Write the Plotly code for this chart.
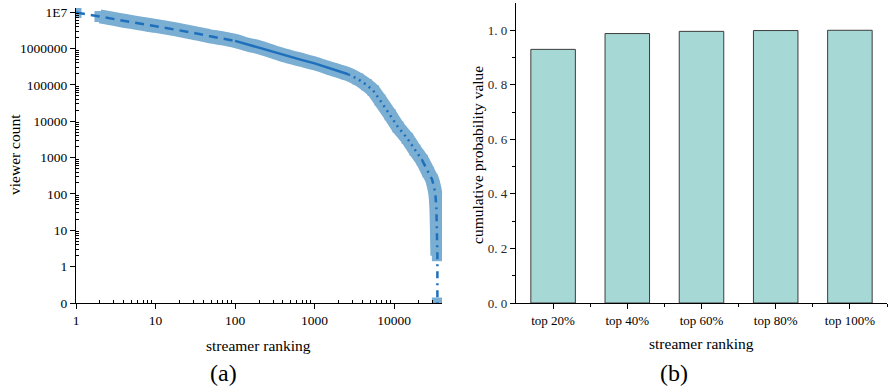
import numpy as np
import plotly.graph_objects as go

# ---------------- data ----------------
ranks = [1, 2, 3, 4, 6, 8, 10, 18, 30, 47, 70, 100, 150, 200, 400, 700, 1000, 1600,
         2650, 3500, 4500, 5450, 6650, 8900, 11200, 14600, 18300, 22500, 26800, 30000,
         31500, 33000, 34000, 34500, 34800, 35000, 35000]
viewers = [9.8e6, 7.6e6, 6.5e6, 5.8e6, 5.0e6, 4.5e6, 4.2e6, 3.35e6, 2.7e6, 2.2e6, 1.9e6,
           1.62e6, 1.25e6, 1.08e6, 6.6e5, 4.8e5, 3.9e5, 2.8e5, 1.95e5, 1.45e5, 1.0e5,
           7.0e4, 3.8e4, 1.5e4, 6.9e3, 3.4e3, 1.6e3, 850, 400, 250, 170, 100, 40, 12, 4, 2, 0]

y_tick_vals = [0.1, 1, 10, 100, 1000, 10000, 100000, 1000000, 10000000]
y_tick_text = ["0", "1", "10", "100", "1000", "10000", "100000", "1000000", "1E7"]
x_tick_vals = [1, 10, 100, 1000, 10000]
x_tick_text = ["1", "10", "100", "1000", "10000"]

categories = ["top 20%", "top 40%", "top 60%", "top 80%", "top 100%"]
cum_prob = [0.930, 0.988, 0.996, 0.999, 1.0]
prob_tick_vals = [0.0, 0.2, 0.4, 0.6, 0.8, 1.0]
prob_tick_text = ["0. 0", "0. 2", "0. 4", "0. 6", "0. 8", "1. 0"]

# segment boundaries of line style (ranks)
DASH_END, SOLID_END, DOT_END = 100, 2650, 22500

FONT = "Liberation Serif"
BAND = "rgba(122,174,210,1)"
LINE = "rgb(30,112,188)"
BAR = "rgb(166,216,214)"

W, H = 891, 392
def px(x):
    return x / W
def py(y):
    return 1 - y / H

r = np.array(ranks, dtype=float)
v = np.array(viewers, dtype=float)
v_plot = np.where(v <= 0, 0.1, v)  # zero drawn at axis floor

fig = go.Figure()

# band: thick line from rank 2 onward (non-zero values) + square markers
mask_band = (r >= 2) & (v > 0)
fig.add_trace(go.Scatter(x=r[mask_band], y=v_plot[mask_band], mode="lines",
                         line=dict(color=BAND, width=14, shape="spline", smoothing=0.6),
                         xaxis="x", yaxis="y", showlegend=False, hoverinfo="skip"))
fig.add_trace(go.Scatter(x=r, y=v_plot, mode="markers",
                         marker=dict(symbol="square", size=11, color=BAND),
                         xaxis="x", yaxis="y", showlegend=False))

segments = [
    (r <= DASH_END, "9px,6px"),
    ((r >= DASH_END) & (r <= SOLID_END), "solid"),
    ((r >= SOLID_END) & (r <= DOT_END), "2px,4px"),
    (r >= DOT_END, "7px,5px,2px,5px"),
]
for m, dash in segments:
    fig.add_trace(go.Scatter(x=r[m], y=v_plot[m], mode="lines",
                             line=dict(color=LINE, width=2.5, dash=dash),
                             xaxis="x", yaxis="y", showlegend=False))

fig.add_trace(go.Bar(x=list(range(len(categories))), y=cum_prob, width=0.6,
                     marker=dict(color=BAR, line=dict(color="rgb(60,60,60)", width=1)),
                     xaxis="x2", yaxis="y2", showlegend=False))

minor_y = [m * 10 ** k for k in range(0, 7) for m in range(2, 10)]
minor_x = [m * 10 ** k for k in range(0, 5) for m in range(2, 10) if m * 10 ** k < 40000]

axis_common = dict(showgrid=False, zeroline=False, showline=True, linecolor="black",
                   linewidth=1.3, ticks="outside", tickcolor="black", tickwidth=1.2,
                   automargin=False, tickfont=dict(family=FONT, size=13.5, color="black"))

fig.update_layout(
    width=W, height=H, margin=dict(l=0, r=0, t=0, b=0),
    paper_bgcolor="white", plot_bgcolor="white", template="none",
    font=dict(family=FONT, color="black"),
    xaxis=dict(domain=[px(76), px(442)], type="log", range=[0, np.log10(40000)],
               tickmode="array", tickvals=x_tick_vals, ticktext=x_tick_text, ticklen=5,
               minor=dict(tickmode="array", tickvals=minor_x, ticks="inside", ticklen=3,
                          tickcolor="black", tickwidth=1, showgrid=False),
               anchor="y", **axis_common),
    yaxis=dict(domain=[py(303), py(8)], type="log", range=[-1, np.log10(1.3e7)],
               tickmode="array", tickvals=y_tick_vals, ticktext=y_tick_text, ticklen=5,
               minor=dict(tickmode="array", tickvals=minor_y, ticks="inside", ticklen=3,
                          tickcolor="black", tickwidth=1, showgrid=False),
               anchor="x", **axis_common),
    xaxis2=dict(domain=[px(516), px(887)], range=[-0.5, 4.5], tickmode="array",
                tickvals=list(range(len(categories))), ticktext=categories, ticklen=5,
                minor=dict(tickmode="array", tickvals=[0.5, 1.5, 2.5, 3.5, 4.5],
                           ticks="outside", ticklen=3, tickcolor="black", tickwidth=1),
                anchor="y2", **{**axis_common, "tickfont": dict(family=FONT, size=13, color="black")}),
    yaxis2=dict(domain=[py(303), py(3)], range=[0, 1.1], tickmode="array",
                tickvals=prob_tick_vals, ticktext=prob_tick_text, ticklen=5,
                minor=dict(tickmode="array", tickvals=[0.1, 0.3, 0.5, 0.7, 0.9],
                           ticks="outside", ticklen=3, tickcolor="black", tickwidth=1),
                anchor="x2", **{**axis_common, "tickfont": dict(family=FONT, size=13, color="rgb(40,40,40)")}),
)

def ann(text, x, y, size, angle=0):
    fig.add_annotation(text=text, x=px(x), y=py(y), xref="paper", yref="paper",
                       showarrow=False, textangle=angle, xanchor="center", yanchor="middle",
                       font=dict(family=FONT, size=size, color="black"))

ann("viewer count", 14, 155, 15.5, -90)
ann("streamer ranking", 258, 345, 15.5)
ann("(a)", 223, 373, 24)
ann("cumulative probability value", 477, 155, 15.5, -90)
ann("streamer ranking", 701, 343, 15.5)
ann("(b)", 674, 373, 24)

fig.write_html("out.html", config={"displayModeBar": False},
               post_script="document.body.style.margin='0';document.body.style.overflow='hidden';")
